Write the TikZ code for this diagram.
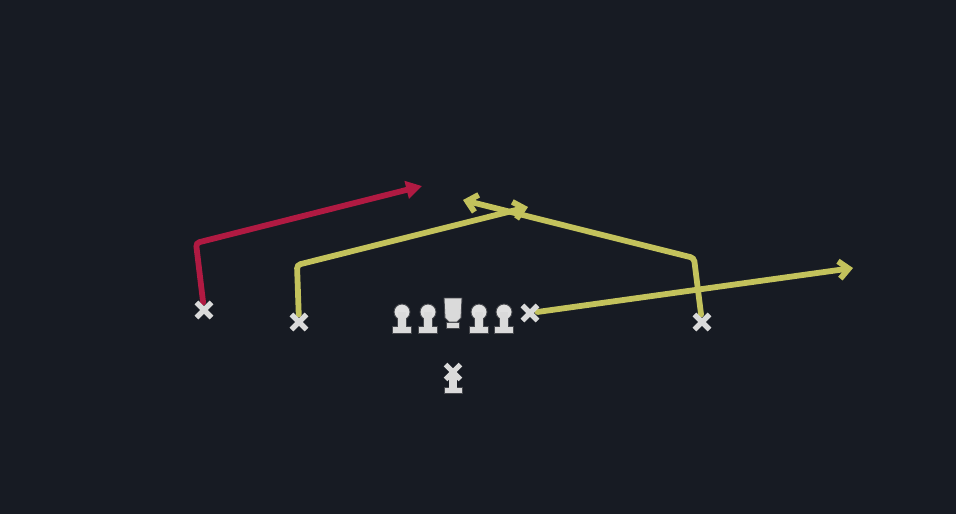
\documentclass[tikz,border=0pt]{standalone}
\usetikzlibrary{arrows.meta,shapes.misc}
\definecolor{fieldbg}{HTML}{171B23}
\definecolor{routered}{HTML}{B01A42}
\definecolor{routeyel}{HTML}{C3C25C}
\definecolor{markgray}{HTML}{DADADA}
\definecolor{markedge}{HTML}{45474C}
\tikzset{
  route/.style={line width=3.3pt,rounded corners=2pt,line cap=round},
  xmark/.style={cross out,draw=markgray,line width=3pt,minimum size=5.5pt,inner sep=0pt},
  lineman/.pic={
    \draw[fill=markgray,draw=markedge,line width=0.5pt] (-9.5,14) rectangle (9.5,21);
    \draw[fill=markgray,draw=markedge,line width=0.5pt] (-4.5,2) rectangle (4.5,14.5);
    \draw[fill=markgray!85,draw=markedge,line width=0.5pt] (0,0) circle (8);
    \fill[markgray] (-4,0) rectangle (4,15);
  },
  centerman/.pic={
    \draw[fill=markgray,draw=markedge,line width=0.5pt] (-6.5,24) rectangle (6.5,30);
    \draw[fill=markgray,draw=markedge,line width=0.5pt] (-9,0) -- (9,0) -- (8,20) -- (4,24) -- (-4,24) -- (-8,20) -- cycle;
  },
  qbstem/.pic={
    \draw[fill=markgray,draw=markedge,line width=0.5pt] (-9,15) rectangle (9,21);
    \fill[markgray] (-4,0) rectangle (4,15.5);
  }
}
\begin{document}
\begin{tikzpicture}[x=0.02cm,y=-0.02cm]
\fill[fieldbg] (0,0) rectangle (956,514);
\useasboundingbox (0,0) rectangle (956,514);
% receivers
\node[xmark] (wrl) at (204,310) {};
\node[xmark] (slot) at (299,322) {};
\node[xmark] (te) at (530,313) {};
\node[xmark] (wrr) at (702,322) {};
% route points
\coordinate (redcut) at (196,243);
\coordinate (redend) at (422,186);
\coordinate (slotcut) at (297,265);
\coordinate (slotend) at (528,207);
\coordinate (wrrcut) at (694,258);
\coordinate (wrrend) at (463,200);
\coordinate (teend) at (853,268);
% routes
\draw[route,routered,-{Triangle[length=9pt,width=10pt]}] (wrl) -- (redcut) -- (redend);
\draw[route,routeyel,-{Straight Barb[length=5.5pt,width=10pt]}] (slot) -- (slotcut) -- (slotend);
\draw[route,routeyel,-{Straight Barb[length=5.5pt,width=10pt]}] (wrr) -- (wrrcut) -- (wrrend);
\draw[route,routeyel,-{Straight Barb[length=5.5pt,width=10pt]}] (te) -- (teend);
% marks again on top
\foreach \p in {wrl,slot,te,wrr}
  \node[xmark] at (\p) {};
% line
\foreach \x in {402,428,479,504}
  \pic at (\x,312) {lineman};
\pic at (453,298) {centerman};
% quarterback
\pic at (453,372) {qbstem};
\node[xmark] (qb) at (453,372) {};
\end{tikzpicture}
\end{document}
